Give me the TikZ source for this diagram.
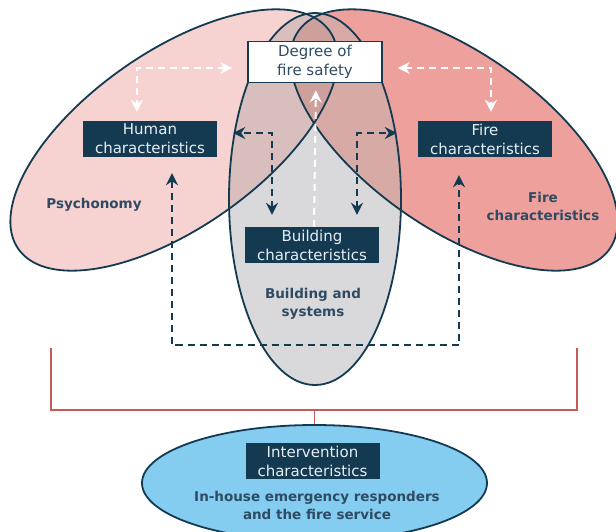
\documentclass[tikz,border=0pt]{standalone}
\usepackage{fontspec}
\setmainfont{DejaVu Sans}
\usetikzlibrary{arrows.meta,shapes.geometric}

\definecolor{navy}{HTML}{143A52}
\definecolor{slate}{HTML}{2F4B63}
\definecolor{boxtext}{HTML}{E6EEF3}
\definecolor{pinkL}{HTML}{F6D2D1}
\definecolor{salmon}{HTML}{EEA09C}
\definecolor{greyC}{HTML}{D9D9DB}
\definecolor{mixLC}{HTML}{D8BEBD}
\definecolor{mixRC}{HTML}{D8AAA6}
\definecolor{mixAll}{HTML}{CDA09C}
\definecolor{sky}{HTML}{84CDF0}
\definecolor{bracket}{HTML}{C65B55}

\tikzset{
  outline/.style={draw=navy, line width=1.8pt},
  charbox/.style={fill=navy, text=boxtext, minimum width=134pt, minimum height=36pt,
    inner sep=1pt, align=center, font=\fontsize{15}{19}\selectfont},
  safetybox/.style={charbox, fill=white, draw=navy, line width=1.8pt, text=slate, minimum height=41pt},
  label/.style={text=slate, align=center, font=\bfseries\fontsize{13.5}{18}\selectfont},
  tip/.style={Stealth[length=12pt,width=12pt,inset=4pt]},
  whitelink/.style={white, line width=2pt, dash pattern=on 7pt off 5pt, -{Stealth[length=12pt,width=12pt,inset=4pt]}},
  whitepair/.style={white, line width=2pt, dash pattern=on 7pt off 5pt,
    {Stealth[length=12pt,width=12pt,inset=4pt]}-{Stealth[length=12pt,width=12pt,inset=4pt]}},
  navylink/.style={navy, line width=2pt, dash pattern=on 7pt off 5pt,
    {Stealth[length=12pt,width=12pt,inset=4pt]}-{Stealth[length=12pt,width=12pt,inset=4pt]}},
}

\begin{document}
\begin{tikzpicture}[x=1pt,y=-1pt]
  \useasboundingbox (0,0) rectangle (616,531);
  \coordinate (PL) at (174,140);
  \coordinate (PR) at (454,140);
  \coordinate (C) at (315,199);

  % the three fields
  \fill[pinkL, rotate around={35:(PL)}] (PL) ellipse [x radius=190pt, y radius=88pt];
  \fill[salmon, rotate around={-35:(PR)}] (PR) ellipse [x radius=190pt, y radius=88pt];
  \fill[greyC] (C) ellipse [x radius=86pt, y radius=186pt];
  \begin{scope}
    \clip[rotate around={35:(PL)}] (PL) ellipse [x radius=190pt, y radius=88pt];
    \fill[mixLC] (C) ellipse [x radius=86pt, y radius=186pt];
  \end{scope}
  \begin{scope}
    \clip[rotate around={-35:(PR)}] (PR) ellipse [x radius=190pt, y radius=88pt];
    \fill[mixRC] (C) ellipse [x radius=86pt, y radius=186pt];
    \clip[rotate around={35:(PL)}] (PL) ellipse [x radius=190pt, y radius=88pt];
    \fill[mixAll] (C) ellipse [x radius=86pt, y radius=186pt];
  \end{scope}
  \draw[outline, rotate around={35:(PL)}] (PL) ellipse [x radius=190pt, y radius=88pt];
  \draw[outline, rotate around={-35:(PR)}] (PR) ellipse [x radius=190pt, y radius=88pt];
  \draw[outline] (C) ellipse [x radius=86pt, y radius=186pt];

  % boxes and labels
  \node[safetybox] (safety) at (315,62) {Degree of\\fire safety};
  \node[charbox] (human) at (150,139) {Human\\characteristics};
  \node[charbox] (fire) at (485,139) {Fire\\characteristics};
  \node[charbox] (building) at (312,245) {Building\\characteristics};
  \node[label] (psych) at (94,205) {Psychonomy};
  \node[label] (firelabel) at (543,206) {Fire\\characteristics};
  \node[label] (systems) at (313,304) {Building and\\systems};

  % links
  \draw[whitepair, shorten <=15pt, shorten >=9pt]
    ([yshift=-6pt]safety.west) -| ([xshift=-13pt]human.north);
  \draw[whitepair, shorten <=15pt, shorten >=9pt]
    ([yshift=-6pt]safety.east) -| ([xshift=6pt]fire.north);
  \draw[whitelink, shorten >=7pt] ([xshift=2pt]building.north) -- ([xshift=1pt]safety.south);
  \draw[navylink, shorten <=12pt, shorten >=16pt]
    ([xshift=-40pt]building.north) |- ([yshift=6pt]human.east);
  \draw[navylink, shorten <=12pt, shorten >=21pt]
    ([xshift=45pt]building.north) |- ([yshift=6pt]fire.west);
  \coordinate (loopL) at (172,345);
  \coordinate (loopR) at (459,345);
  \draw[navylink, shorten <=16pt, shorten >=18pt]
    ([xshift=22pt]human.south) -- (loopL) -- (loopR) -- ([xshift=-26pt]fire.south);

  % intervention
  \node[ellipse, outline, fill=sky, minimum width=345pt, minimum height=116pt, inner sep=0pt]
    (service) at (314.5,483) {};
  \node[charbox] (intervention) at (312.5,461) {Intervention\\characteristics};
  \node[label] (responders) at (317,505) {In-house emergency responders\\and the fire service};
  \coordinate (bl) at (51,348);
  \coordinate (br) at (577,348);
  \coordinate (join) at (314.5,410);
  \draw[bracket, line width=1.5pt] (bl) |- (join) -| (br);
  \draw[bracket, line width=1.5pt] (join) -- (service.north);
\end{tikzpicture}
\end{document}
